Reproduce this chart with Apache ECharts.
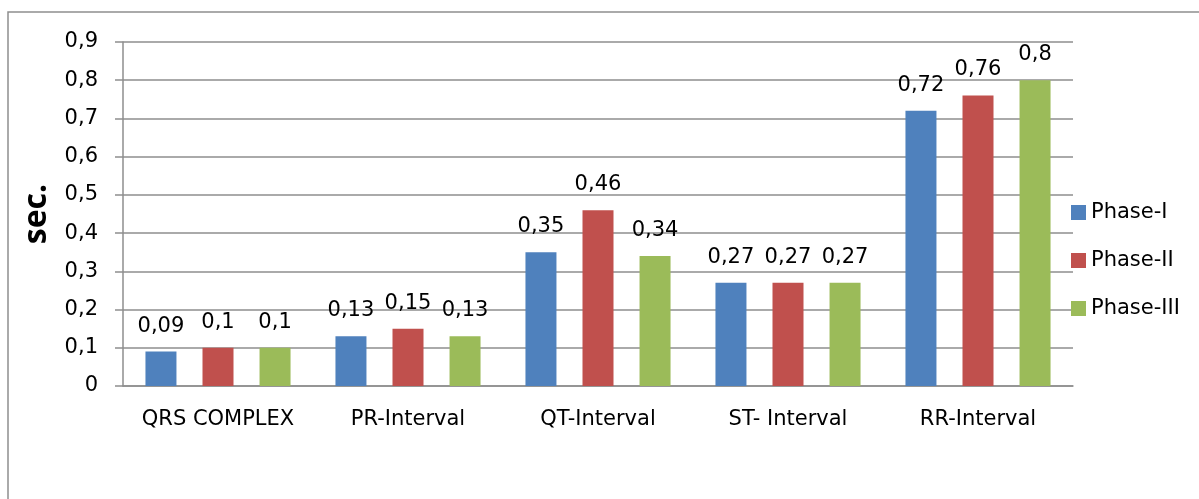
<!DOCTYPE html>
<html>
<head>
<meta charset="utf-8">
<script src="https://cdn.jsdelivr.net/npm/echarts@6/dist/echarts.min.js"></script>
<style>html,body{margin:0;padding:0;background:#fff;overflow:hidden;}#c{width:1199px;height:499px;}</style>
</head>
<body>
<div id="c"></div>
<script>
const categories = ['QRS COMPLEX', 'PR-Interval', 'QT-Interval', 'ST- Interval', 'RR-Interval'];
const phaseI = [0.09, 0.13, 0.35, 0.27, 0.72];
const phaseII = [0.1, 0.15, 0.46, 0.27, 0.76];
const phaseIII = [0.1, 0.13, 0.34, 0.27, 0.8];
const seriesNames = ['Phase-I', 'Phase-II', 'Phase-III'];
const colors = ['#4F81BD', '#C0504D', '#9BBB59'];

const FONT = 'DejaVu Sans';
const comma = v => String(+(+v).toFixed(2)).replace('.', ',');
const lineColor = '#8e8e8e';

const chart = echarts.init(document.getElementById('c'), null, {renderer: 'canvas'});
const mk = (name, data, i) => ({
  name, type: 'bar', data, barWidth: 31, barGap: '84%',
  itemStyle: {color: colors[i]},
  label: {show: true, position: 'top', distance: 15, fontFamily: FONT, fontSize: 21, color: '#000',
          formatter: p => comma(p.value)}
});
chart.setOption({
  animation: false,
  textStyle: {fontFamily: FONT},
  grid: {left: 123, right: 126, top: 42, bottom: 113},
  graphic: [{type: 'polyline', shape: {points: [[8, 600], [8, 12], [1300, 12]]},
             style: {fill: 'none', stroke: lineColor, lineWidth: 1.5}, silent: true}],
  legend: {orient: 'vertical', left: 1071, top: 202, itemWidth: 15, itemHeight: 15, itemGap: 27,
           padding: 0, icon: 'rect', data: seriesNames,
           textStyle: {fontFamily: FONT, fontSize: 21, lineHeight: 20, color: '#000'}},
  xAxis: {type: 'category', data: categories,
          axisLine: {lineStyle: {color: lineColor, width: 1.5}},
          axisTick: {show: false},
          axisLabel: {fontFamily: FONT, fontSize: 21, color: '#000', margin: 23, interval: 0}},
  yAxis: {type: 'value', min: 0, max: 0.9, interval: 0.1,
          name: 'sec.', nameLocation: 'middle', nameGap: 70, nameRotate: 90,
          nameTextStyle: {fontFamily: 'Open Sans', fontWeight: 'bold', fontSize: 32, color: '#000'},
          axisLine: {show: true, lineStyle: {color: lineColor, width: 1.5}},
          axisTick: {show: true, length: 8, lineStyle: {color: lineColor, width: 1.5}},
          splitLine: {lineStyle: {color: lineColor, width: 1.5}},
          axisLabel: {fontFamily: FONT, fontSize: 21, color: '#000', margin: 25, formatter: v => comma(v)}},
  series: [mk(seriesNames[0], phaseI, 0), mk(seriesNames[1], phaseII, 1), mk(seriesNames[2], phaseIII, 2)]
});
</script>
</body>
</html>
